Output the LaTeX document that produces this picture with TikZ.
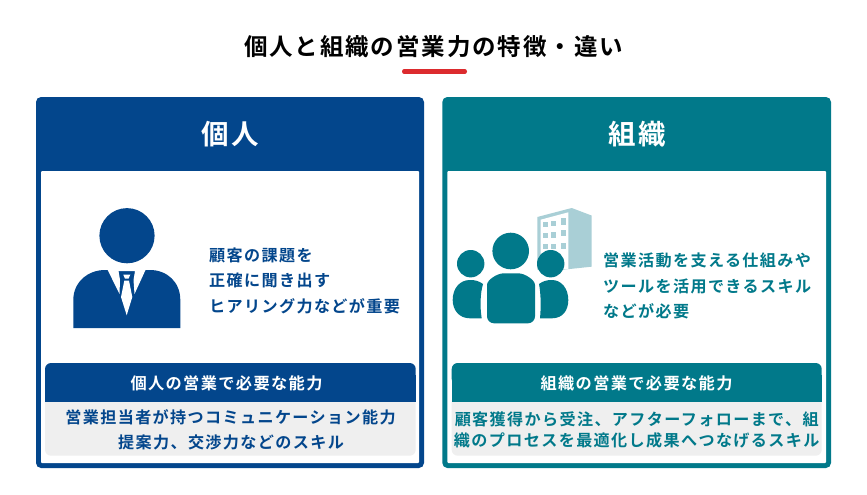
\documentclass[tikz,border=0pt]{standalone}
\usepackage{fontspec}
\setmainfont{Noto Sans CJK JP}[BoldFont={Noto Sans CJK JP Bold}]
\newfontfamily\ttl{Noto Sans CJK JP Bold}[LetterSpace=8]
\newfontfamily\bdy{Noto Sans CJK JP Bold}[LetterSpace=8.5]
\definecolor{navy}{HTML}{03468C}
\definecolor{teal2}{HTML}{01798A}
\definecolor{pale}{HTML}{EFEFEF}
\definecolor{bldg}{HTML}{A9CFD6}
\definecolor{redbar}{HTML}{DC2B2E}
\tikzset{
 x=1pt,y=-1pt,
 ttlstyle/.style={inner sep=0pt,text=black,font=\ttl\fontsize{23.5}{25}\selectfont},
 headstyle/.style={inner sep=0pt,text=white,font=\ttl\fontsize{27.5}{30}\selectfont},
 subhead/.style={inner sep=0pt,text=white,font=\bdy\fontsize{16.2}{18}\selectfont},
 bodytext/.style={inner sep=0pt,align=center,font=\bdy\fontsize{16.1}{18}\selectfont},
}
\begin{document}
\begin{tikzpicture}
\useasboundingbox (0,0) rectangle (867,495);
\fill[white] (0,0) rectangle (867,495);
\node[ttlstyle] (title) at (433.5,47) {個人と組織の営業力の特徴・違い};
\draw[redbar,line width=4pt,line cap=round] (404,71.5) -- (465,71.5);
% left panel
\fill[navy,rounded corners=5pt] (36,97) rectangle (424,468);
\fill[white,rounded corners=1pt] (41,171) -- (419,171) -- (419,463) -- (41,463) -- cycle;
\node[headstyle] (lh) at (230.5,134) {個人};
% person
\fill[navy] (127,235.7) circle (27.6);
\fill[navy] (73.3,328) -- (73.3,300) .. controls (73.3,282) and (88,270) .. (105,270) -- (150,270) .. controls (167,270) and (180.3,282) .. (180.3,300) -- (180.3,328) -- cycle;
\fill[white] (107.7,270) -- (145.5,270) -- (134.5,294) -- (133.5,280) -- (135,271) -- (118.5,271) -- (120,280) -- (119.5,294) -- cycle;
\fill[white] (123.3,274.7) -- (130.3,274.7) -- (128.5,278.7) -- (125,278.7) -- cycle;
\fill[white] (124.3,280.7) -- (129,280.7) -- (132.3,297) -- (126.7,315.3) -- (121,297) -- cycle;
% left text
\node[bodytext,text=navy,anchor=west,align=left] (l1) at (209,255) {顧客の課題を};
\node[bodytext,text=navy,anchor=west,align=left] (l2) at (209,280.7) {正確に聞き出す};
\node[bodytext,text=navy,anchor=west,align=left] (l3) at (209,306) {ヒアリング力などが重要};
% left sub
\fill[pale,rounded corners=6pt] (45,395) rectangle (415.7,455.7);
\fill[navy,rounded corners=6pt] (45,363) rectangle (415.7,385);
\fill[navy] (45,375) rectangle (415.7,401.7);
\node[subhead] (ls) at (226.5,383) {個人の営業で必要な能力};
\node[bodytext,text=navy] (lb1) at (230.5,417.7) {営業担当者が持つコミュニケーション能力};
\node[bodytext,text=navy] (lb2) at (231,442.3) {提案力、交渉力などのスキル};
% right panel
\fill[teal2,rounded corners=5pt] (442.3,97) rectangle (831,468);
\fill[white,rounded corners=1pt] (447.3,171) -- (826,171) -- (826,463) -- (447.3,463) -- cycle;
\node[headstyle] (rh) at (637.5,134) {組織};
% building
\fill[bldg] (537.3,217) -- (571.7,208) -- (591.5,215.5) -- (591.5,266.7) -- (565,269.5) -- (537.3,269.5) -- cycle;
\fill[white] (540.7,219.7) -- (568.3,212.3) -- (568.3,269) -- (540.7,269) -- cycle;
\fill[bldg] (543.3,222.3) rectangle ++(4.3,5);
\fill[bldg] (551,220.7) rectangle ++(4.7,5.5);
\fill[bldg] (560.7,218) rectangle ++(5.3,6.5);
\fill[bldg] (543.3,233) rectangle ++(4.3,5);
\fill[bldg] (551,232) rectangle ++(4.7,5.5);
\fill[bldg] (560.7,230.3) rectangle ++(5.3,6);
\fill[bldg] (543.3,244) rectangle ++(4.3,5);
\fill[bldg] (551,243.7) rectangle ++(4.7,5.3);
\fill[bldg] (560.7,243) rectangle ++(5.3,5.7);
% people
\fill[teal2] (510.7,251) circle (18.3);
\fill[teal2] (470.7,263.7) circle (13.7);
\fill[teal2] (550.7,263.7) circle (13.7);
\fill[teal2,rounded corners=7pt] (487,323.3) -- (487,292) .. controls (487,280) and (497,273.3) .. (511,273.3) .. controls (525,273.3) and (535,280) .. (535,292) -- (535,323.3) -- cycle;
\fill[teal2] (481.7,318.3) -- (470,318.3) .. controls (459,318.3) and (452.7,310) .. (452.7,300) .. controls (452.7,288) and (460,280) .. (470,280) .. controls (475,280) and (479,281) .. (483,284) .. controls (480,294) and (480,308) .. (481.7,318.3) -- cycle;
\fill[teal2] (540,318.3) -- (552,318.3) .. controls (563,318.3) and (568.3,310) .. (568.3,300) .. controls (568.3,288) and (561,280) .. (552,280) .. controls (547,280) and (543,281) .. (539,284) .. controls (541,294) and (541,308) .. (540,318.3) -- cycle;
% right text
\node[bodytext,text=teal2,anchor=west,align=left] (r1) at (603,260) {営業活動を支える仕組みや};
\node[bodytext,text=teal2,anchor=west,align=left] (r2) at (603,286) {ツールを活用できるスキル};
\node[bodytext,text=teal2,anchor=west,align=left] (r3) at (603,311.5) {などが必要};
% right sub
\fill[pale,rounded corners=6pt] (451.7,395) rectangle (821.7,455.7);
\fill[teal2,rounded corners=6pt] (451.7,363) rectangle (821.7,385);
\fill[teal2] (451.7,375) rectangle (821.7,401.7);
\node[subhead] (rs) at (636.5,383) {組織の営業で必要な能力};
\node[bodytext,text=teal2] (rb1) at (636.7,419) {顧客獲得から受注、アフターフォローまで、組};
\node[bodytext,text=teal2] (rb2) at (636.7,440) {織のプロセスを最適化し成果へつなげるスキル};
\end{tikzpicture}
\end{document}
